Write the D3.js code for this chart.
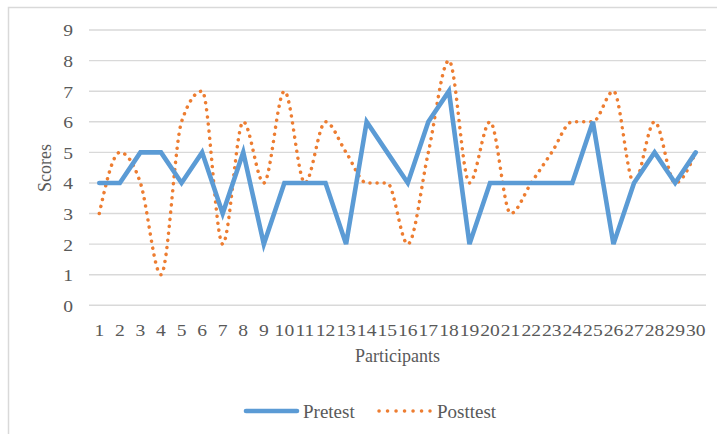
<!DOCTYPE html>
<html>
<head>
<meta charset="utf-8">
<script src="https://cdn.jsdelivr.net/npm/d3@7"></script>
<style>
  body { margin: 0; background: #fff; }
</style>
</head>
<body>
<svg id="chart" width="717" height="434"></svg>
<script>
const participants = d3.range(1, 31).map(String);
const pretest = [4, 4, 5, 5, 4, 5, 3, 5, 2, 4, 4, 4, 2, 6, 5, 4, 6, 7, 2, 4, 4, 4, 4, 4, 6, 2, 4, 5, 4, 5];
const posttest = [3, 5, 4, 1, 6, 7, 2, 6, 4, 7, 4, 6, 5, 4, 4, 2, 5, 8, 4, 6, 3, 4, 5, 6, 6, 7, 4, 6, 4, 5];
const yTicks = [0, 1, 2, 3, 4, 5, 6, 7, 8, 9];

const fontName = "'Liberation Serif'";
const textColor = "#595959";

const svg = d3.select("#chart");
const plotLeft = 89, plotRight = 706, plotTop = 30, plotBottom = 305.3;

// outer chart frame
svg.append("rect")
  .attr("x", 8.5).attr("y", 7.5)
  .attr("width", 730).attr("height", 450)
  .attr("fill", "none").attr("stroke", "#d9d9d9").attr("stroke-width", 1.5);

const x = d3.scaleBand().domain(participants).range([plotLeft, plotRight]).padding(0);
const y = d3.scaleLinear().domain([0, 9]).range([plotBottom, plotTop]);
const cx = d => x(d) + x.bandwidth() / 2;

// gridlines
svg.append("g").selectAll("line")
  .data(yTicks)
  .join("line")
  .attr("x1", plotLeft).attr("x2", plotRight)
  .attr("y1", d => y(d)).attr("y2", d => y(d))
  .attr("stroke", "#d9d9d9").attr("stroke-width", 1.4);

// y axis labels (the original's tick text is a bit wide, hence the x stretch)
const yAxis = d3.axisLeft(y).tickValues(yTicks).tickSize(0).tickPadding(0);
svg.append("g")
  .attr("transform", `translate(${plotLeft - 16},0)`)
  .call(yAxis)
  .attr("font-family", null)
  .call(g => g.select(".domain").remove())
  .call(g => g.selectAll("text")
    .style("font-family", fontName)
    .style("font-size", "17.5px")
    .attr("fill", textColor)
    .attr("transform", "scale(1.12,1)")
    .attr("dy", "0.34em"));

// x axis labels
const xAxis = d3.axisBottom(x).tickSize(0).tickPadding(0);
svg.append("g")
  .attr("transform", `translate(0,${plotBottom + 18})`)
  .call(xAxis)
  .attr("font-family", null)
  .call(g => g.select(".domain").remove())
  .call(g => g.selectAll("text")
    .style("font-family", fontName)
    .style("font-size", "17.5px")
    .attr("fill", textColor)
    .attr("transform", "scale(1.12,1)")
    .attr("dy", "0.71em"));

// axis titles
svg.append("text")
  .attr("x", (plotLeft + plotRight) / 2).attr("y", 362)
  .attr("text-anchor", "middle")
  .style("font-family", fontName).style("font-size", "18px")
  .attr("fill", textColor)
  .text("Participants");

svg.append("text")
  .attr("transform", `translate(51,168) rotate(-90)`)
  .attr("text-anchor", "middle")
  .style("font-family", fontName).style("font-size", "18px")
  .attr("fill", textColor)
  .text("Scores");

// series
const preLine = d3.line()
  .x((d, i) => cx(participants[i]))
  .y(d => y(d));

const postLine = d3.line()
  .x((d, i) => cx(participants[i]))
  .y(d => y(d))
  .curve(d3.curveMonotoneX);

svg.append("path")
  .datum(posttest)
  .attr("d", postLine)
  .attr("fill", "none")
  .attr("stroke", "#ed7d31")
  .attr("stroke-width", 3.5)
  .attr("stroke-linecap", "round")
  .attr("stroke-dasharray", "0.1 7");

svg.append("path")
  .datum(pretest)
  .attr("d", preLine)
  .attr("fill", "none")
  .attr("stroke", "#5b9bd5")
  .attr("stroke-width", 4.6)
  .attr("stroke-linejoin", "miter")
  .attr("stroke-linecap", "round");

// legend
const legend = svg.append("g").attr("transform", "translate(0,411)");
legend.append("line")
  .attr("x1", 246).attr("x2", 297).attr("y1", 0).attr("y2", 0)
  .attr("stroke", "#5b9bd5").attr("stroke-width", 4.6).attr("stroke-linecap", "round");
legend.append("text")
  .attr("x", 303).attr("y", 6.5)
  .style("font-family", fontName).style("font-size", "19px")
  .attr("fill", textColor)
  .text("Pretest");
legend.append("line")
  .attr("x1", 379).attr("x2", 430).attr("y1", 0).attr("y2", 0)
  .attr("stroke", "#ed7d31").attr("stroke-width", 3.5)
  .attr("stroke-linecap", "round").attr("stroke-dasharray", "0.1 8.4");
legend.append("text")
  .attr("x", 437).attr("y", 6.5)
  .style("font-family", fontName).style("font-size", "19px")
  .attr("fill", textColor)
  .text("Posttest");
</script>
</body>
</html>
